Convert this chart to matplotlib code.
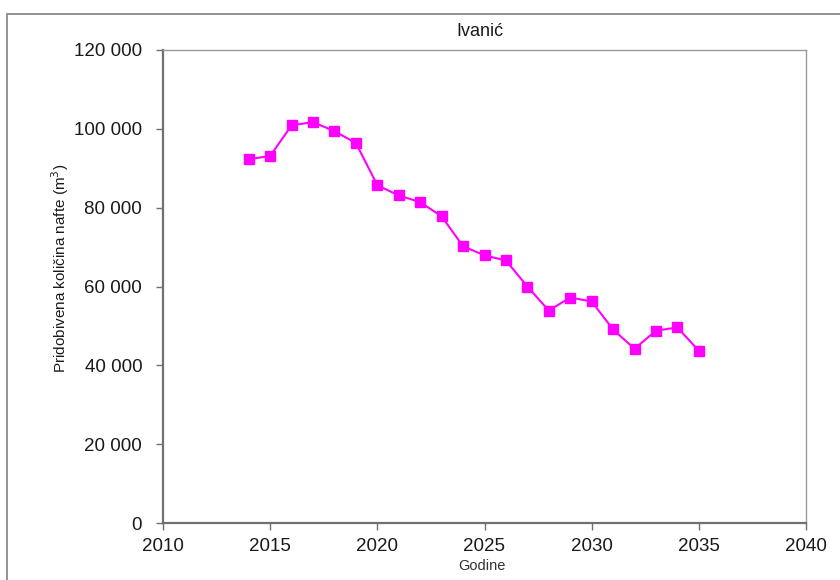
import matplotlib
matplotlib.use("Agg")
import matplotlib.pyplot as plt
from matplotlib.patches import Rectangle
from matplotlib.ticker import FuncFormatter

plt.rcParams['font.family'] = ['Liberation Sans', 'DejaVu Sans']

years = [2014, 2015, 2016, 2017, 2018, 2019, 2020, 2021, 2022, 2023, 2024,
         2025, 2026, 2027, 2028, 2029, 2030, 2031, 2032, 2033, 2034, 2035]
production = [92300, 93100, 100900, 101700, 99400, 96400, 85700, 83100, 81400,
              77800, 70200, 67900, 66600, 60000, 53900, 57200, 56200, 49100,
              44200, 48800, 49600, 43700]

title = "Ivanić"
xlabel = "Godine"
ylabel = "Pridobivena količina nafte (m$^3$)"
xticks = [2010, 2015, 2020, 2025, 2030, 2035, 2040]
yticks = [0, 20000, 40000, 60000, 80000, 100000, 120000]

fig = plt.figure(figsize=(8.4, 5.8), dpi=100)
fig.patch.set_facecolor('white')

# outer frame (cut off at right and bottom)
fig.patches.append(Rectangle((7/840, -0.2), 1.2, 0.2 + 1 - 14/580,
                             transform=fig.transFigure, fill=False,
                             edgecolor='#8a8a8a', linewidth=1.3))

ax = fig.add_axes([163/840, 1 - 523/580, (806 - 163)/840, (523 - 50)/580])
ax.plot(years, production, color='#ff00ff', linewidth=1.5, marker='s',
        markersize=7.5, markerfacecolor='#ff00ff', markeredgecolor='#ff00ff')

ax.set_xlim(2010, 2040)
ax.set_ylim(0, 120000)
ax.set_xticks(xticks)
ax.set_yticks(yticks)
ax.yaxis.set_major_formatter(FuncFormatter(lambda v, p: f"{int(v):,}".replace(",", " ")))

for s in ['left', 'bottom']:
    ax.spines[s].set_color('#707070')
    ax.spines[s].set_linewidth(1.6)
for s in ['top', 'right']:
    ax.spines[s].set_color('#9a9a9a')
    ax.spines[s].set_linewidth(1.0)

ax.tick_params(axis='both', direction='out', length=5, width=1, color='#707070',
               labelsize=13.5, labelcolor='#1a1a1a')
ax.tick_params(axis='y', pad=10)
ax.tick_params(axis='x', pad=6)

fig.text(0.5 * (163 + 806) / 840 - 0.005, 1 - 31/580, title, ha='center', va='center',
         fontsize=13, color='#1a1a1a')
fig.text(60/840, 1 - 268/580, ylabel, ha='center', va='center', rotation=90,
         fontsize=11, color='#1a1a1a')
fig.text(482/840, 1 - 566/580, xlabel, ha='center', va='center',
         fontsize=10.5, color='#333333')

fig.savefig("out.png", dpi=100, facecolor='white')
